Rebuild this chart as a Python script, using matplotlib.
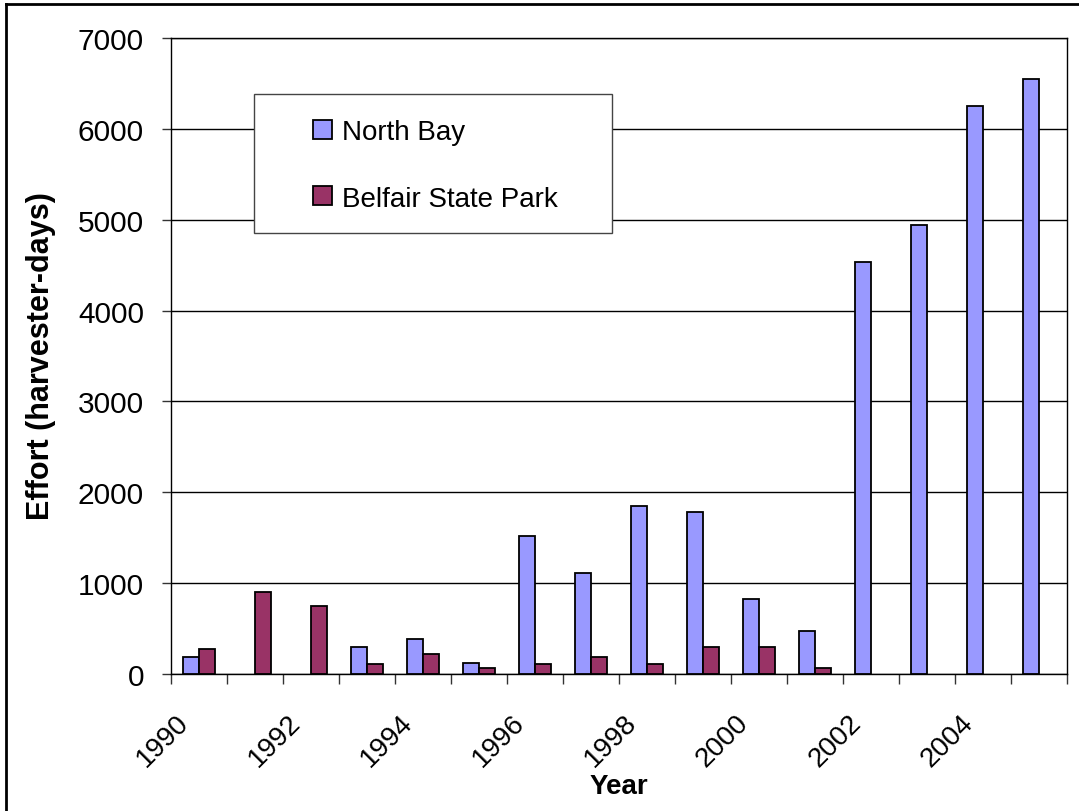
import matplotlib
matplotlib.use("Agg")
import matplotlib.pyplot as plt
from matplotlib.patches import Rectangle, Patch
from matplotlib.lines import Line2D
from matplotlib.ticker import FixedLocator, NullFormatter
import numpy as np

plt.rcParams["font.family"] = ["Liberation Sans", "DejaVu Sans"]

# data
years = list(range(1990, 2006))
north_bay = [190, 0, 0, 300, 380, 125, 1520, 1110, 1850, 1780, 830, 475, 4540, 4940, 6250, 6550]
belfair = [275, 900, 745, 105, 215, 65, 105, 190, 105, 300, 300, 65, 0, 0, 0, 0]
year_labels = [str(y) if y % 2 == 0 else "" for y in years]

W, H = 1079, 812
fig = plt.figure(figsize=(W / 100, H / 100), dpi=100)
fig.patch.set_facecolor("white")

ax = fig.add_axes([170.5 / W, 1 - 675 / H, (1067 - 170.5) / W, (675 - 39) / H])

nb_color = "#9999FF"
bsp_color = "#993366"
bw = 1 / 3.5

x = np.arange(len(years))
nb = np.array(north_bay, dtype=float)
bs = np.array(belfair, dtype=float)
m1 = nb > 0
m2 = bs > 0
ax.bar(x[m1] - bw / 2, nb[m1], width=bw, color=nb_color, edgecolor="black",
       linewidth=1.3, zorder=3)
ax.bar(x[m2] + bw / 2, bs[m2], width=bw, color=bsp_color, edgecolor="black",
       linewidth=1.3, zorder=3)

ax.set_xlim(-0.5, len(years) - 0.5)
ax.set_ylim(0, 7000)
ax.set_yticks(range(0, 7001, 1000))
ax.yaxis.grid(True, color="black", linewidth=1.0, zorder=1)
ax.set_axisbelow(True)

# labels sit a bit left of the category centre, tick marks on the boundaries
ax.xaxis.set_major_locator(FixedLocator(x - 0.25))
ax.set_xticklabels(year_labels)
ax.xaxis.set_minor_locator(FixedLocator(np.arange(-0.5, len(years), 1.0)))
ax.xaxis.set_minor_formatter(NullFormatter())
ax.tick_params(axis="x", which="major", length=0, pad=32, labelsize=20)
ax.tick_params(axis="x", which="minor", length=7, width=1, color="#333333", direction="out")
ax.tick_params(axis="y", length=6.5, width=1, color="#333333", pad=12.5, labelsize=21.5)
for lab in ax.get_xticklabels():
    lab.set_rotation(45)
    lab.set_ha("right")
    lab.set_va("center")
    lab.set_rotation_mode("anchor")

for s in ax.spines.values():
    s.set_color("black")
    s.set_linewidth(1.0)

fig.text(619 / W, 1 - 787 / H, "Year", fontsize=20, fontweight="bold",
         ha="center", va="center")
fig.text(41 / W, 1 - 356 / H, "Effort (harvester-days)", fontsize=22,
         fontweight="bold", rotation=90, ha="center", va="center")

# legend box
box = Rectangle((254 / W, 1 - 234 / H), (612 - 254) / W, (234 - 95) / H,
                transform=fig.transFigure, facecolor="white", edgecolor="#444444",
                linewidth=1.0, zorder=5, clip_on=False)
ax.add_patch(box)
handles = [Patch(facecolor=nb_color, edgecolor="black", linewidth=1.3),
           Patch(facecolor=bsp_color, edgecolor="black", linewidth=1.3)]
leg = ax.legend(handles, ["North Bay", "Belfair State Park"], loc="center left",
                bbox_to_anchor=(313 / W, 1 - 166.5 / H), bbox_transform=fig.transFigure,
                frameon=False, fontsize=20, handlelength=0.68, handleheight=0.68,
                handletextpad=0.36, labelspacing=1.45, borderpad=0, borderaxespad=0)
leg.set_zorder(6)

# outer chart frame (left and top edges visible)
fig.add_artist(Line2D([6 / W, 6 / W], [0, 1 - 5 / H], transform=fig.transFigure,
                      color="black", linewidth=2))
fig.add_artist(Line2D([6 / W, 1], [1 - 5 / H, 1 - 5 / H], transform=fig.transFigure,
                      color="black", linewidth=2))

fig.savefig("out.png", dpi=100, facecolor="white")
